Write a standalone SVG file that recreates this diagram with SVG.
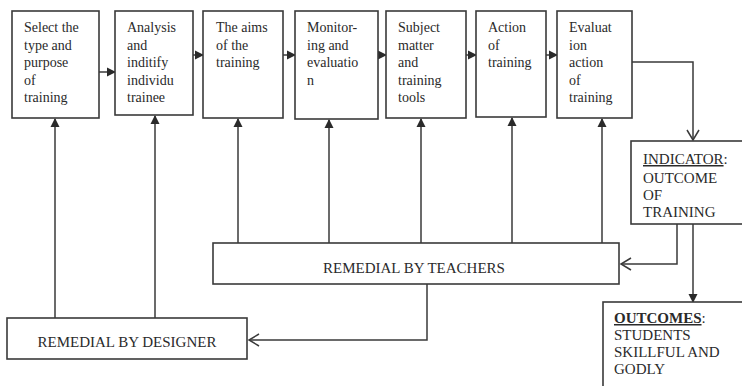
<svg xmlns="http://www.w3.org/2000/svg" width="742" height="386" viewBox="0 0 742 386">
<style>
.box{fill:#fff;stroke:#3a3a3a;stroke-width:1.6}
.t{font-family:"Liberation Serif","DejaVu Serif",serif;font-size:14px;fill:#2a2a2a}
.c{font-family:"Liberation Serif","DejaVu Serif",serif;font-size:15px;fill:#2a2a2a}
.ln{fill:none;stroke:#3a3a3a;stroke-width:1.5}
</style>
<defs>
<marker id="fa" markerWidth="10" markerHeight="10" refX="8" refY="5" orient="auto" markerUnits="userSpaceOnUse">
<path d="M0,0.5 L9,5 L0,9.5 Z" fill="#2a2a2a"/>
</marker>
<marker id="ob" markerWidth="14" markerHeight="14" refX="12" refY="7" orient="auto" markerUnits="userSpaceOnUse">
<path d="M2,1 L12,7 L2,13" fill="none" stroke="#3a3a3a" stroke-width="1.5"/>
</marker>
</defs>
<rect width="742" height="386" fill="#fff"/>

<g id="connectors">
<line class="ln" x1="99" y1="72" x2="115" y2="72" marker-end="url(#fa)"/>
<line class="ln" x1="193" y1="55" x2="203" y2="55" marker-end="url(#fa)"/>
<line class="ln" x1="283" y1="55" x2="295" y2="55" marker-end="url(#fa)"/>
<line class="ln" x1="378" y1="55" x2="386" y2="55" marker-end="url(#fa)"/>
<line class="ln" x1="466" y1="55" x2="476" y2="55" marker-end="url(#fa)"/>
<line class="ln" x1="546" y1="55" x2="557" y2="55" marker-end="url(#fa)"/>
<polyline class="ln" points="632,62 693,62 693,140" marker-end="url(#ob)"/>
<line class="ln" x1="238" y1="243" x2="238" y2="119" marker-end="url(#fa)"/>
<line class="ln" x1="329" y1="243" x2="329" y2="120" marker-end="url(#fa)"/>
<line class="ln" x1="421" y1="243" x2="421" y2="119" marker-end="url(#fa)"/>
<line class="ln" x1="512" y1="243" x2="512" y2="118" marker-end="url(#fa)"/>
<line class="ln" x1="602" y1="243" x2="602" y2="119" marker-end="url(#fa)"/>
<line class="ln" x1="55" y1="318" x2="55" y2="119" marker-end="url(#fa)"/>
<line class="ln" x1="155" y1="318" x2="155" y2="116" marker-end="url(#fa)"/>
<polyline class="ln" points="677,224 677,264 621,264" marker-end="url(#ob)"/>
<line class="ln" x1="693" y1="224" x2="693" y2="302" marker-end="url(#fa)"/>
<polyline class="ln" points="427,284 427,340 249,340" marker-end="url(#ob)"/>
</g>

<g id="n1"><rect class="box" x="12" y="11" width="87" height="107"/>
<text class="t" x="24" y="32">Select the</text><text class="t" x="24" y="49.5">type and</text><text class="t" x="24" y="67">purpose</text><text class="t" x="24" y="84.5">of</text><text class="t" x="24" y="102">training</text></g>

<g id="n2"><rect class="box" x="115" y="11" width="78" height="104"/>
<text class="t" x="127" y="32">Analysis</text><text class="t" x="127" y="49.5">and</text><text class="t" x="127" y="67">inditify</text><text class="t" x="127" y="84.5">individu</text><text class="t" x="127" y="102">trainee</text></g>

<g id="n3"><rect class="box" x="203" y="11" width="80" height="107"/>
<text class="t" x="216" y="32">The aims</text><text class="t" x="216" y="49.5">of the</text><text class="t" x="216" y="67">training</text></g>

<g id="n4"><rect class="box" x="295" y="11" width="83" height="108"/>
<text class="t" x="307" y="32">Monitor-</text><text class="t" x="307" y="49.5">ing and</text><text class="t" x="307" y="67">evaluatio</text><text class="t" x="307" y="84.5">n</text></g>

<g id="n5"><rect class="box" x="386" y="11" width="80" height="107"/>
<text class="t" x="398" y="32">Subject</text><text class="t" x="398" y="49.5">matter</text><text class="t" x="398" y="67">and</text><text class="t" x="398" y="84.5">training</text><text class="t" x="398" y="102">tools</text></g>

<g id="n6"><rect class="box" x="476" y="11" width="70" height="106"/>
<text class="t" x="488" y="32">Action</text><text class="t" x="488" y="49.5">of</text><text class="t" x="488" y="67">training</text></g>

<g id="n7"><rect class="box" x="557" y="11" width="75" height="107"/>
<text class="t" x="569" y="32">Evaluat</text><text class="t" x="569" y="49.5">ion</text><text class="t" x="569" y="67">action</text><text class="t" x="569" y="84.5">of</text><text class="t" x="569" y="102">training</text></g>

<g id="indicator"><rect class="box" x="631" y="141" width="112" height="83"/>
<text class="c" x="643" y="164"><tspan text-decoration="underline">INDICATOR</tspan>:</text>
<text class="c" x="643" y="183">OUTCOME</text><text class="c" x="643" y="200">OF</text><text class="c" x="643" y="217">TRAINING</text></g>

<g id="teachers"><rect class="box" x="213" y="243" width="406" height="41"/>
<text class="c" x="414" y="273" text-anchor="middle">REMEDIAL BY TEACHERS</text></g>

<g id="designer"><rect class="box" x="7" y="318" width="240" height="41"/>
<text class="c" x="127" y="347" text-anchor="middle">REMEDIAL BY DESIGNER</text></g>

<g id="outcomes"><rect class="box" x="603" y="302" width="142" height="90"/>
<text class="c" x="614" y="323"><tspan font-weight="bold" text-decoration="underline">OUTCOMES</tspan>:</text>
<text class="c" x="614" y="340">STUDENTS</text><text class="c" x="614" y="357">SKILLFUL AND</text><text class="c" x="614" y="374">GODLY</text></g>
</svg>
